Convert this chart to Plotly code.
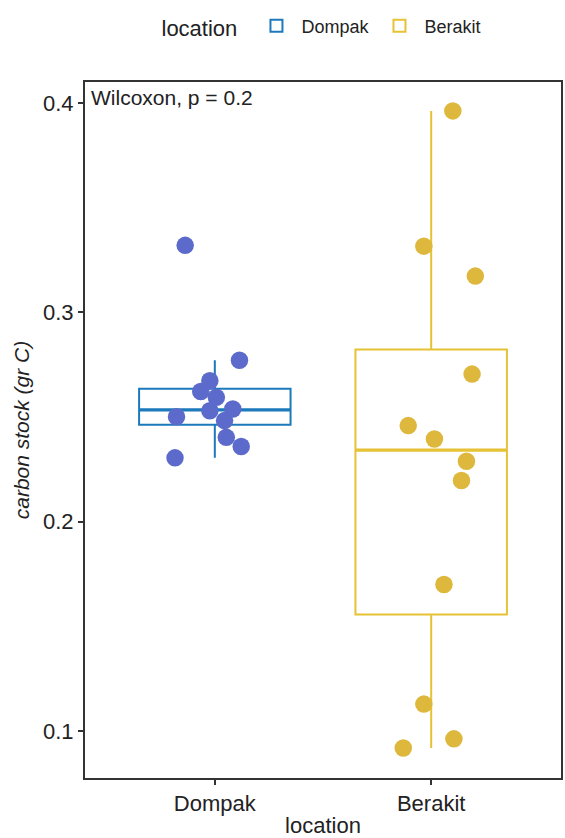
import numpy as np
import plotly.graph_objects as go

# Carbon stock samples per location, with horizontal jitter offsets (category units)
locations = ["Dompak", "Berakit"]
dompak_carbon = [0.3320, 0.2771, 0.2673, 0.2622, 0.2594, 0.2538,
                 0.2530, 0.2501, 0.2483, 0.2403, 0.2359, 0.2305]
dompak_jitter = [-0.137, 0.114, -0.023, -0.065, 0.007, 0.083,
                 -0.023, -0.177, 0.045, 0.053, 0.122, -0.184]
berakit_carbon = [0.3962, 0.3316, 0.3173, 0.2705, 0.2459, 0.2395,
                  0.2289, 0.2197, 0.1700, 0.1129, 0.0963, 0.0919]
berakit_jitter = [0.100, -0.034, 0.204, 0.189, -0.106, 0.015,
                  0.163, 0.140, 0.059, -0.034, 0.105, -0.129]
test_label = "Wilcoxon, p = 0.2"

box_colors = ["#1C79BC", "#E6C235"]
point_colors = ["#5C6BCB", "#DDB83C"]
FONT = "Liberation Sans, Arial, Helvetica, sans-serif"
TEXT = "#222222"


def box_stats(values):
    v = np.asarray(values, dtype=float)
    q1, med, q3 = np.percentile(v, [25, 50, 75])
    iqr = q3 - q1
    lo = v[v >= q1 - 1.5 * iqr].min()
    hi = v[v <= q3 + 1.5 * iqr].max()
    return q1, med, q3, lo, hi


groups = [(dompak_carbon, dompak_jitter), (berakit_carbon, berakit_jitter)]
fig = go.Figure()
box_width = 0.7

for i, (name, (vals, jit)) in enumerate(zip(locations, groups)):
    pos = i + 1
    q1, med, q3, lo, hi = box_stats(vals)
    fig.add_trace(go.Box(
        x=[pos], q1=[q1], median=[med], q3=[q3],
        lowerfence=[lo], upperfence=[hi],
        width=box_width, whiskerwidth=0, boxpoints=False,
        fillcolor="rgba(255,255,255,0)",
        line=dict(color=box_colors[i], width=2),
        name=name, legendgroup=name, hoverinfo="skip",
    ))
    # thicker median bar
    fig.add_trace(go.Scatter(
        x=[pos - box_width / 2, pos + box_width / 2], y=[med, med],
        mode="lines", line=dict(color=box_colors[i], width=3.4),
        showlegend=False, legendgroup=name, hoverinfo="skip",
    ))

for i, (name, (vals, jit)) in enumerate(zip(locations, groups)):
    pos = i + 1
    fig.add_trace(go.Scatter(
        x=[pos + j for j in jit], y=vals, mode="markers",
        marker=dict(color=point_colors[i], size=17.5, line=dict(width=0)),
        showlegend=False, legendgroup=name, name=name,
    ))

fig.add_annotation(
    text=test_label, xref="paper", yref="paper", x=0, y=1,
    xanchor="left", yanchor="top", xshift=4, yshift=-2, showarrow=False,
    font=dict(family=FONT, size=21, color=TEXT),
)

axis_common = dict(
    showline=True, mirror=True, linecolor="#333333", linewidth=2,
    ticks="outside", ticklen=5, tickwidth=1.5, tickcolor="#333333",
    showgrid=False, zeroline=False,
    tickfont=dict(family=FONT, size=22, color=TEXT),
)

fig.update_layout(
    width=565, height=838,
    margin=dict(l=85, r=2, t=82, b=58),
    paper_bgcolor="white", plot_bgcolor="white",
    font=dict(family=FONT, color=TEXT),
    xaxis=dict(
        range=[0.4, 2.6], tickvals=[1, 2], ticktext=locations,
        title=dict(text="location", font=dict(family=FONT, size=22, color=TEXT), standoff=4),
        **axis_common,
    ),
    yaxis=dict(
        range=[0.0776, 0.41], tickvals=[0.1, 0.2, 0.3, 0.4], tickformat=".1f",
        title=dict(text="<i>carbon stock (gr C)</i>",
                   font=dict(family=FONT, size=21, color=TEXT), standoff=8),
        **axis_common,
    ),
    legend=dict(
        orientation="h", x=0.5, xanchor="center", y=1.079, yanchor="middle",
        title=dict(text="location ", font=dict(family=FONT, size=22, color=TEXT)),
        font=dict(family=FONT, size=18, color=TEXT),
        itemwidth=40,
    ),
    showlegend=True,
)

fig.write_html("out.html")
